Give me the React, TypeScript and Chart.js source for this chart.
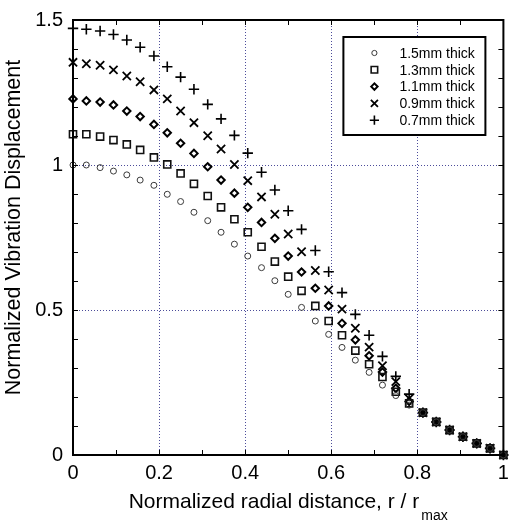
import React, { useEffect, useRef } from 'react';
import { Chart, registerables } from 'chart.js';
import { drawPoint } from 'chart.js/helpers';

Chart.register(...registerables);

// Normalized radial distance r / r_max
const R = [
  0, 0.031, 0.063, 0.094, 0.125, 0.156, 0.188, 0.219, 0.25, 0.281, 0.313,
  0.344, 0.375, 0.406, 0.438, 0.469, 0.5, 0.531, 0.563, 0.594, 0.625, 0.656,
  0.688, 0.719, 0.75, 0.781, 0.813, 0.844, 0.875, 0.906, 0.938, 0.969, 1,
];

const T15 = [
  1.0, 1.0, 0.991, 0.979, 0.966, 0.948, 0.93, 0.899, 0.874, 0.837, 0.808,
  0.768, 0.727, 0.686, 0.646, 0.601, 0.554, 0.509, 0.462, 0.416, 0.371, 0.327,
  0.285, 0.241, 0.205, 0.172, 0.146, 0.114, 0.086, 0.063, 0.04, 0.023, 0.0,
];
const T13 = [
  1.106, 1.106, 1.098, 1.086, 1.071, 1.052, 1.026, 1.002, 0.971, 0.935, 0.893,
  0.854, 0.813, 0.768, 0.718, 0.667, 0.615, 0.566, 0.514, 0.462, 0.413, 0.36,
  0.313, 0.269, 0.218, 0.178, 0.146, 0.114, 0.086, 0.063, 0.04, 0.023, 0.0,
];
const T11 = [
  1.228, 1.221, 1.217, 1.207, 1.186, 1.167, 1.14, 1.111, 1.075, 1.04, 0.994,
  0.948, 0.903, 0.854, 0.802, 0.747, 0.686, 0.631, 0.575, 0.514, 0.454, 0.397,
  0.342, 0.286, 0.23, 0.185, 0.146, 0.114, 0.086, 0.063, 0.04, 0.023, 0.0,
];
const T09 = [
  1.354, 1.349, 1.344, 1.328, 1.307, 1.287, 1.259, 1.228, 1.186, 1.146, 1.101,
  1.055, 1.002, 0.946, 0.89, 0.83, 0.762, 0.701, 0.636, 0.569, 0.503, 0.437,
  0.372, 0.308, 0.253, 0.195, 0.146, 0.114, 0.086, 0.063, 0.04, 0.023, 0.0,
];
const T07 = [
  1.471, 1.468, 1.462, 1.45, 1.431, 1.406, 1.376, 1.339, 1.303, 1.261, 1.209,
  1.159, 1.102, 1.041, 0.975, 0.914, 0.842, 0.778, 0.705, 0.632, 0.56, 0.485,
  0.413, 0.34, 0.271, 0.21, 0.146, 0.114, 0.086, 0.063, 0.04, 0.023, 0.0,
];

const SERIES_LABELS = ['1.5mm thick', '1.3mm thick', '1.1mm thick', '0.9mm thick', '0.7mm thick'];
const SERIES_VALUES = [T15, T13, T11, T09, T07];

const X_MINOR = [0.1, 0.2, 0.3, 0.4, 0.5, 0.6, 0.7, 0.8, 0.9];
const Y_MINOR = [0.1, 0.2, 0.3, 0.4, 0.5, 0.6, 0.7, 0.8, 0.9, 1.0, 1.1, 1.2, 1.3, 1.4];

const X_TITLE = 'Normalized radial distance, r / r';
const X_TITLE_SUB = 'max';
const Y_TITLE = 'Normalized Vibration Displacement';

const FONT = '"Liberation Sans", Arial, sans-serif';

const MARKERS = [
  { style: 'circle', radius: 3, width: 1, color: '#3a3a3a', legendRadius: 2.6 },
  { style: 'rect', radius: 5, width: 1.6, color: '#111', legendRadius: 4.6 },
  { style: 'rectRot', radius: 3.7, width: 2, color: '#000', legendRadius: 3.2 },
  { style: 'crossRot', radius: 5.8, width: 1.8, color: '#000', legendRadius: 5 },
  { style: 'cross', radius: 5.2, width: 1.6, color: '#000', legendRadius: 4.6 },
];

const fmt = (v: number) => String(Math.round(v * 10) / 10);

const framePlugin = {
  id: 'frame',
  afterDraw(chart: any) {
    const { ctx, chartArea: a, scales } = chart;
    const xs = scales.x;
    const ys = scales.y;
    ctx.save();
    ctx.strokeStyle = '#000';
    ctx.lineWidth = 1;
    ctx.beginPath();
    for (const v of X_MINOR) {
      const px = Math.round(xs.getPixelForValue(v)) + 0.5;
      ctx.moveTo(px, a.bottom);
      ctx.lineTo(px, a.bottom - 5);
      ctx.moveTo(px, a.top);
      ctx.lineTo(px, a.top + 5);
    }
    for (const v of Y_MINOR) {
      const py = Math.round(ys.getPixelForValue(v)) + 0.5;
      ctx.moveTo(a.left, py);
      ctx.lineTo(a.left + 5, py);
      ctx.moveTo(a.right, py);
      ctx.lineTo(a.right - 5, py);
    }
    ctx.stroke();
    ctx.lineWidth = 2;
    ctx.strokeRect(a.left, a.top, a.right - a.left, a.bottom - a.top);

    // x-axis title with subscript
    ctx.fillStyle = '#000';
    ctx.textBaseline = 'alphabetic';
    ctx.textAlign = 'left';
    ctx.font = `21px ${FONT}`;
    const mainW = ctx.measureText(X_TITLE).width;
    ctx.font = `14px ${FONT}`;
    const subW = ctx.measureText(X_TITLE_SUB).width;
    const total = mainW + 2 + subW;
    const cx = (a.left + a.right) / 2;
    const x0 = cx - total / 2;
    const base = a.bottom + 53;
    ctx.font = `21px ${FONT}`;
    ctx.fillText(X_TITLE, x0, base);
    ctx.font = `14px ${FONT}`;
    ctx.fillText(X_TITLE_SUB, x0 + mainW + 2, base + 12);

    // y-axis title
    ctx.save();
    ctx.translate(14, (a.top + a.bottom) / 2 - 10);
    ctx.rotate(-Math.PI / 2);
    ctx.textAlign = 'center';
    ctx.textBaseline = 'middle';
    ctx.font = `21.5px ${FONT}`;
    ctx.fillText(Y_TITLE, 0, 0);
    ctx.restore();

    // legend
    const lw = 142;
    const lh = 98;
    const lx = a.right - 18 - lw;
    const ly = a.top + 17;
    ctx.fillStyle = '#fff';
    ctx.fillRect(lx, ly, lw, lh);
    ctx.lineWidth = 2;
    ctx.strokeStyle = '#000';
    ctx.strokeRect(lx, ly, lw, lh);
    ctx.font = `14px ${FONT}`;
    ctx.textAlign = 'left';
    ctx.textBaseline = 'middle';
    ctx.fillStyle = '#000';
    SERIES_LABELS.forEach((label, i) => {
      const m = MARKERS[i];
      const yy = ly + 16 + i * 16.8;
      ctx.lineWidth = m.width;
      ctx.strokeStyle = m.color;
      ctx.fillStyle = 'transparent';
      drawPoint(ctx, { pointStyle: m.style, radius: m.legendRadius, rotation: 0, borderWidth: m.width }, lx + 31, yy);
      ctx.fillStyle = '#000';
      ctx.fillText(label, lx + 56, yy + 1);
    });
    ctx.restore();
  },
};

export default function App() {
  const ref = useRef<HTMLCanvasElement>(null);

  useEffect(() => {
    if (!ref.current) return;
    Chart.defaults.font.family = FONT;
    const datasets = SERIES_LABELS.map((label, i) => {
      const m = MARKERS[i];
      return {
        label,
        data: R.map((r, j) => ({ x: r, y: SERIES_VALUES[i][j] })),
        showLine: false,
        pointStyle: m.style,
        pointRadius: m.radius,
        pointHoverRadius: m.radius,
        pointBorderWidth: m.width,
        borderColor: m.color,
        backgroundColor: 'rgba(0,0,0,0)',
        clip: false,
      };
    });
    const chart = new Chart(ref.current, {
      type: 'scatter',
      data: { datasets } as any,
      options: {
        animation: false,
        responsive: false,
        events: [],
        layout: { padding: { top: 20, right: 4, left: 0, bottom: 0 } },
        plugins: { legend: { display: false }, tooltip: { enabled: false } },
        scales: {
          x: {
            type: 'linear',
            min: 0,
            max: 1,
            ticks: {
              stepSize: 0.2,
              color: '#000',
              font: { size: 20 },
              padding: 6,
              maxRotation: 0,
              callback: (v: any) => fmt(Number(v)),
            },
            grid: {
              drawTicks: false,
              lineWidth: 1,
              color: (c: any) =>
                c.tick && (c.tick.value <= 0.001 || c.tick.value >= 0.999) ? 'rgba(0,0,0,0)' : '#4c4c9a',
            },
            border: { display: false, dash: [1, 2] },
            title: { display: false },
            afterFit: (s: any) => {
              s.height = 69;
              s.paddingLeft = 0;
              s.paddingRight = 0;
            },
          },
          y: {
            type: 'linear',
            min: 0,
            max: 1.5,
            ticks: {
              stepSize: 0.5,
              color: '#000',
              font: { size: 20 },
              padding: 10,
              callback: (v: any) => fmt(Number(v)),
            },
            grid: {
              drawTicks: false,
              lineWidth: 1,
              color: (c: any) =>
                c.tick && (c.tick.value <= 0.001 || c.tick.value >= 1.499) ? 'rgba(0,0,0,0)' : '#4c4c9a',
            },
            border: { display: false, dash: [1, 2] },
            title: { display: false },
            afterFit: (s: any) => {
              s.width = 73;
              s.paddingTop = 0;
              s.paddingBottom = 0;
            },
          },
        },
      },
      plugins: [framePlugin],
    } as any);
    return () => chart.destroy();
  }, []);

  return (
    <div style={{ position: 'fixed', left: 0, top: 0, width: 511, height: 524, background: '#fff' }}>
      <canvas ref={ref} width={511} height={524} style={{ display: 'block' }} />
    </div>
  );
}
